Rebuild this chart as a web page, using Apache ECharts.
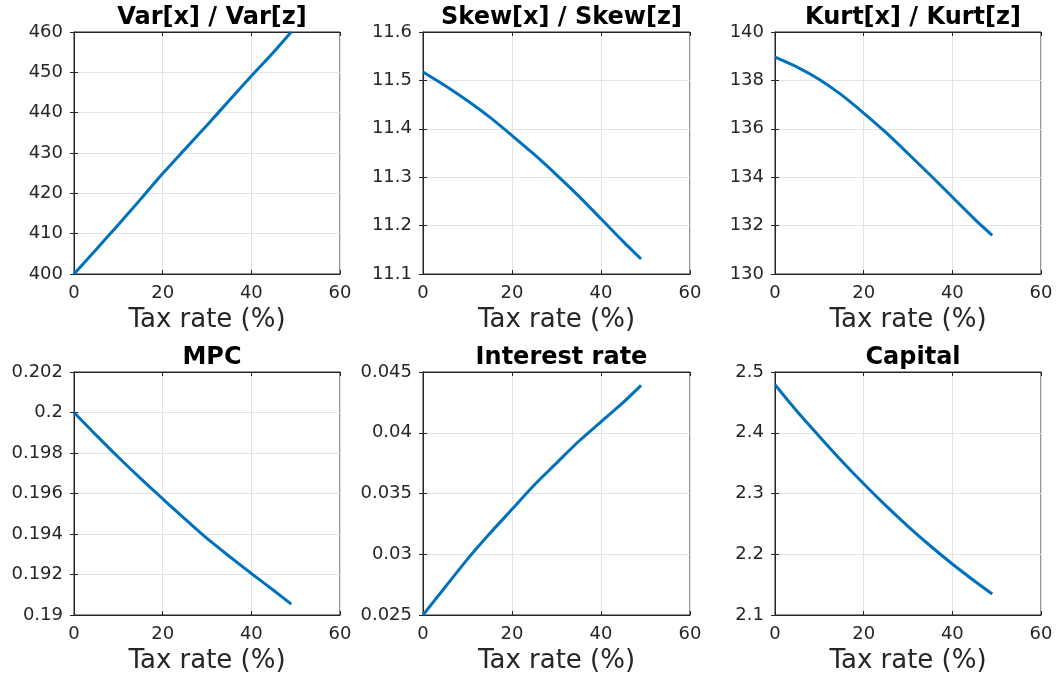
<!DOCTYPE html>
<html>
<head>
<meta charset="utf-8">
<script src="https://cdn.jsdelivr.net/npm/echarts@6/dist/echarts.min.js"></script>
<style>html,body{margin:0;padding:0;background:#fff}#c{width:1057px;height:679px}</style>
</head>
<body>
<div id="c"></div>
<script>
// ---- data ----
const taxRate = [0, 5, 10, 15, 20, 25, 30, 35, 40, 45, 49];
const titles = ['Var[x] / Var[z]', 'Skew[x] / Skew[z]', 'Kurt[x] / Kurt[z]', 'MPC', 'Interest rate', 'Capital'];
const varRatio = [400, 406.1, 412.2, 418.5, 424.9, 430.9, 436.9, 443.0, 449.1, 455.0, 460];
const skewRatio = [11.5175, 11.489, 11.458, 11.424, 11.386, 11.347, 11.305, 11.261, 11.214, 11.167, 11.131];
const kurtRatio = [138.96, 138.55, 138.04, 137.4, 136.65, 135.85, 134.98, 134.09, 133.18, 132.27, 131.6];
const mpc = [0.2, 0.19888, 0.19779, 0.19675, 0.19574, 0.19475, 0.19378, 0.1929, 0.19205, 0.19122, 0.19054];
const interestRate = [0.025, 0.0273, 0.0296, 0.0317, 0.0337, 0.0357, 0.0375, 0.0393, 0.0409, 0.0425, 0.0439];
const capital = [2.479, 2.435, 2.394, 2.354, 2.316, 2.280, 2.246, 2.214, 2.184, 2.156, 2.1345];
const xTicks = {min: 0, max: 60, interval: 20};
const yTicks = [
  {min: 400, max: 460, interval: 10, dec: 0},
  {min: 11.1, max: 11.6, interval: 0.1, dec: 1},
  {min: 130, max: 140, interval: 2, dec: 0},
  {min: 0.19, max: 0.202, interval: 0.002, dec: 3},
  {min: 0.025, max: 0.045, interval: 0.005, dec: 3},
  {min: 2.1, max: 2.5, interval: 0.1, dec: 1}
];
const seriesData = [varRatio, skewRatio, kurtRatio, mpc, interestRate, capital];

// ---- layout ----
const cols = [{left: 74, width: 266}, {left: 423, width: 267}, {left: 775, width: 266}];
const rows = [{top: 32, height: 242, titleTop: 1}, {top: 372, height: 243, titleTop: 341}];
const axisColor = '#262626';
const font = 'DejaVu Sans';

const grids = [], xAxes = [], yAxes = [], series = [], title = [];
for (let i = 0; i < 6; i++) {
  const c = cols[i % 3], r = rows[Math.floor(i / 3)];
  grids.push({left: c.left, top: r.top, width: c.width, height: r.height, show: true,
    borderColor: axisColor, borderWidth: 1, backgroundColor: '#fff', containLabel: false});
  title.push({text: titles[i], left: c.left + c.width / 2, top: r.titleTop, textAlign: 'center',
    textStyle: {fontFamily: font, fontWeight: 'bold', fontSize: 24, color: '#000'}});
  const yt = yTicks[i];
  xAxes.push({gridIndex: i, type: 'value', position: 'bottom', min: xTicks.min, max: xTicks.max, interval: xTicks.interval,
    name: 'Tax rate (%)', nameLocation: 'middle', nameGap: 33,
    nameTextStyle: {fontFamily: font, fontSize: 26, color: axisColor},
    axisLine: {show: true, lineStyle: {color: axisColor, width: 1}},
    axisTick: {show: true, inside: true, length: 4, lineStyle: {color: axisColor}},
    axisLabel: {fontFamily: font, fontSize: 18, color: axisColor, margin: 10},
    splitLine: {show: true, lineStyle: {color: '#e3e3e3', width: 1}}});
  xAxes.push({gridIndex: i, type: 'value', position: 'top', min: xTicks.min, max: xTicks.max, interval: xTicks.interval,
    axisLine: {show: true, lineStyle: {color: axisColor, width: 1}},
    axisTick: {show: true, inside: true, length: 4, lineStyle: {color: axisColor}},
    axisLabel: {show: false}, splitLine: {show: false}});
  yAxes.push({gridIndex: i, type: 'value', position: 'left', min: yt.min, max: yt.max, interval: yt.interval,
    axisLine: {show: true, lineStyle: {color: axisColor, width: 1}},
    axisTick: {show: true, inside: true, length: 4, lineStyle: {color: axisColor}},
    axisLabel: {fontFamily: font, fontSize: 18, color: axisColor, margin: 11,
      formatter: v => String(parseFloat(v.toFixed(yt.dec)))},
    splitLine: {show: true, lineStyle: {color: '#e3e3e3', width: 1}}});
  yAxes.push({gridIndex: i, type: 'value', position: 'right', min: yt.min, max: yt.max, interval: yt.interval,
    axisLine: {show: true, lineStyle: {color: axisColor, width: 1}},
    axisTick: {show: true, inside: true, length: 4, lineStyle: {color: axisColor}},
    axisLabel: {show: false}, splitLine: {show: false}});
  series.push({type: 'line', xAxisIndex: 2 * i, yAxisIndex: 2 * i, showSymbol: false, smooth: 0.25,
    lineStyle: {color: '#0072BD', width: 3}, itemStyle: {color: '#0072BD'},
    data: taxRate.map((x, k) => [x, seriesData[i][k]]), animation: false, clip: false});
}

const chart = echarts.init(document.getElementById('c'));
chart.setOption({animation: false, backgroundColor: '#fff', title, grid: grids, xAxis: xAxes, yAxis: yAxes, series});
</script>
</body>
</html>
